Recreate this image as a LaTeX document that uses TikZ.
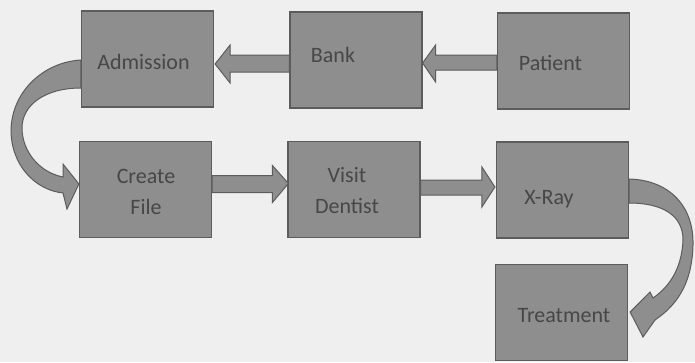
\documentclass[tikz,border=0pt]{standalone}
\usepackage{fontspec}
\setmainfont{Carlito}
\usetikzlibrary{calc}
\definecolor{bg}{HTML}{EFEFEF}
\definecolor{boxfill}{HTML}{8E8E8E}
\definecolor{boxline}{HTML}{5C5C5C}
\definecolor{txt}{HTML}{474747}
% shift text by (#1, down #2) inside a centred node
\newcommand\offtxt[3]{\raisebox{-#2}[\height][\depth]{\hspace*{#1}\hspace*{#1}#3}}
\begin{document}
\begin{tikzpicture}[x=1pt,y=-1pt,
  stepbox/.style={draw=boxline, line width=1.2pt, fill=boxfill, minimum width=132pt,
    minimum height=96pt, text=txt, font=\fontsize{22}{31}\selectfont, align=center, inner sep=0pt},
  blockarrow/.style={draw=boxline, line width=1pt, fill=boxfill, line join=miter}]
\fill[bg] (0,0) rectangle (695,362);
\useasboundingbox (0,0) rectangle (695,362);
\node[stepbox] (adm) at (147.5,59) {\offtxt{-4pt}{3pt}{Admission}};
\node[stepbox] (bank) at (356,60) {\offtxt{-23pt}{-5pt}{Bank}};
\node[stepbox] (pat) at (563.5,61) {\offtxt{-13pt}{2pt}{Patient}};
\node[stepbox] (cre) at (145.5,189.5) {\offtxt{0.5pt}{3pt}{\begin{tabular}{@{}c@{}}Create\\File\end{tabular}}};
\node[stepbox] (vis) at (354,189.5) {\offtxt{-7pt}{2pt}{\begin{tabular}{@{}c@{}}Visit\\Dentist\end{tabular}}};
\node[stepbox] (xr) at (562.5,190) {\offtxt{-13.5pt}{9pt}{X-Ray}};
\node[stepbox] (trt) at (561.5,312.5) {\offtxt{2.5pt}{3pt}{Treatment}};
% Bank -> Admission
\draw[blockarrow] ($(bank.west |- adm.east)+(0,-4)$) -- ($(adm.east)+(16,-4)$) -- ($(adm.east)+(16,-14)$)
  -- ($(adm.east)+(1,5)$) -- ($(adm.east)+(16,24)$) -- ($(adm.east)+(16,13)$)
  -- ($(bank.west |- adm.east)+(0,13)$) -- cycle;
% Patient -> Bank
\draw[blockarrow] ($(pat.west |- bank.east)+(0,-5)$) -- ($(bank.east)+(13,-5)$) -- ($(bank.east)+(13,-15)$)
  -- ($(bank.east)+(0,3)$) -- ($(bank.east)+(13,22)$) -- ($(bank.east)+(13,10)$)
  -- ($(pat.west |- bank.east)+(0,10)$) -- cycle;
% Create File -> Visit Dentist
\draw[blockarrow] ($(cre.east |- vis.west)+(0,-14)$) -- ($(vis.west)+(-15,-14)$) -- ($(vis.west)+(-15,-24)$)
  -- ($(vis.west)+(1,-6)$) -- ($(vis.west)+(-15,13)$) -- ($(vis.west)+(-15,3)$)
  -- ($(cre.east |- vis.west)+(0,3)$) -- cycle;
% Visit Dentist -> X-Ray
\draw[blockarrow] ($(vis.east |- xr.west)+(0,-10)$) -- ($(xr.west)+(-14,-10)$) -- ($(xr.west)+(-14,-23)$)
  -- ($(xr.west)+(-1,-3)$) -- ($(xr.west)+(-14,17)$) -- ($(xr.west)+(-14,5)$)
  -- ($(vis.east |- xr.west)+(0,5)$) -- cycle;
% Admission -> Create File (curved)
\draw[blockarrow] ($(adm.west)+(0,1)$) .. controls (45,62) and (12,90) .. (11,130)
  .. controls (11,165) and (35,190) .. (63,193) -- (67,209) -- ($(cre.west)+(0,-5.5)$)
  -- (63,164) -- (63,177) .. controls (38,172) and (22,150) .. (22,128)
  .. controls (22,105) and (45,88) .. ($(adm.west)+(0,29)$) -- cycle;
% X-Ray -> Treatment (curved)
\draw[blockarrow] ($(xr.east)+(0,-11)$) .. controls (668,180) and (694,205) .. (693,245)
  .. controls (692,280) and (680,303) .. (655,320) -- (643,337) -- ($(trt.east)+(2,-0.5)$)
  -- (650,292) -- (653,298) .. controls (672,285) and (682,265) .. (683,240)
  .. controls (683,215) and (662,203) .. ($(xr.east)+(0,13)$) -- cycle;
\end{tikzpicture}
\end{document}
